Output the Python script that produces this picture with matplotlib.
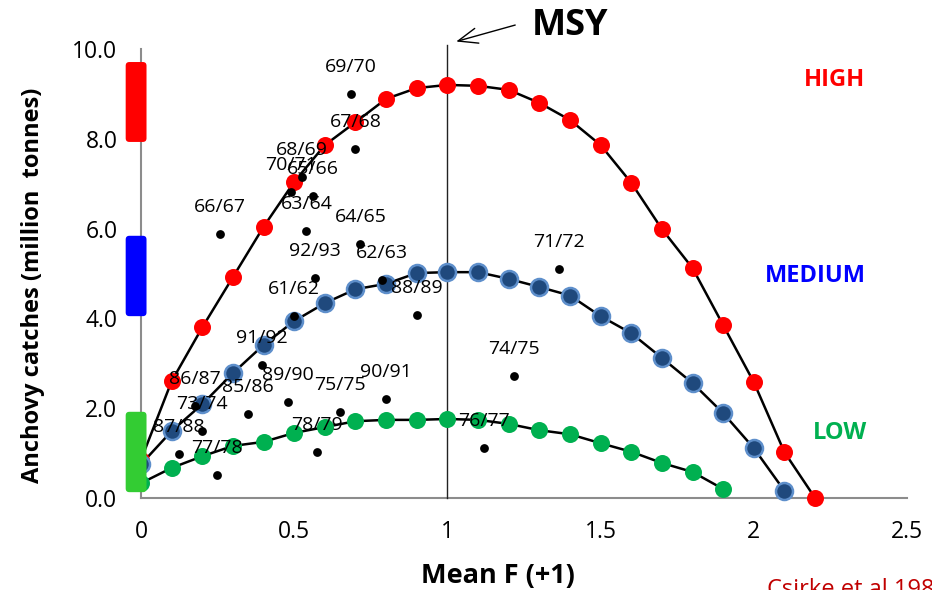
import numpy as np
import matplotlib
matplotlib.use("Agg")
import matplotlib.pyplot as plt
from matplotlib.patches import FancyBboxPatch

plt.rcParams['font.family'] = ['Open Sans', 'DejaVu Sans']

# yield curves (Mean F vs catch) for the three recruitment levels
f_high = [0.0, 0.1, 0.2, 0.3, 0.4, 0.5, 0.6, 0.7, 0.8, 0.9, 1.0, 1.1,
          1.2, 1.3, 1.4, 1.5, 1.6, 1.7, 1.8, 1.9, 2.0, 2.1, 2.2]
catch_high = [0.85, 2.6, 3.8, 4.92, 6.04, 7.04, 7.86, 8.37, 8.89, 9.13, 9.2, 9.18,
              9.09, 8.8, 8.42, 7.86, 7.02, 5.99, 5.12, 3.85, 2.58, 1.02, 0.0]
f_med = [0.0, 0.1, 0.2, 0.3, 0.4, 0.5, 0.6, 0.7, 0.8, 0.9, 1.0,
         1.1, 1.2, 1.3, 1.4, 1.5, 1.6, 1.7, 1.8, 1.9, 2.0, 2.1]
catch_med = [0.75, 1.49, 2.09, 2.78, 3.41, 3.94, 4.34, 4.65, 4.77, 5.01, 5.03,
             5.03, 4.88, 4.7, 4.51, 4.05, 3.67, 3.12, 2.56, 1.89, 1.11, 0.16]
f_low = [0.0, 0.1, 0.2, 0.3, 0.4, 0.5, 0.6, 0.7, 0.8, 0.9,
         1.0, 1.1, 1.2, 1.3, 1.4, 1.5, 1.6, 1.7, 1.8, 1.9]
catch_low = [0.33, 0.67, 0.93, 1.16, 1.25, 1.45, 1.58, 1.71, 1.74, 1.74,
             1.76, 1.74, 1.65, 1.51, 1.42, 1.22, 1.03, 0.78, 0.58, 0.2]

# observed seasons
years = ["61/62", "62/63", "63/64", "64/65", "65/66", "66/67", "67/68", "68/69",
         "69/70", "70/71", "71/72", "73/74", "74/75", "75/75", "76/77", "77/78",
         "78/79", "85/86", "86/87", "87/88", "88/89", "89/90", "90/91", "91/92", "92/93"]
obs_f = [0.5, 0.787, 0.54, 0.716, 0.56, 0.258, 0.70, 0.526,
         0.686, 0.49, 1.363, 0.2, 1.216, 0.65, 1.12, 0.248,
         0.575, 0.35, 0.176, 0.124, 0.9, 0.48, 0.8, 0.395, 0.569]
obs_catch = [4.05, 4.86, 5.95, 5.66, 6.73, 5.88, 7.77, 7.15,
             9.0, 6.82, 5.1, 1.49, 2.72, 1.92, 1.11, 0.51,
             1.02, 1.87, 2.05, 0.98, 4.08, 2.14, 2.2, 2.96, 4.9]

msy_f = 1.0
# recruitment level ranges shown as bars on the y axis
level_names = ["HIGH", "MEDIUM", "LOW"]
level_lo = [7.93, 4.05, 0.13]
level_hi = [9.71, 5.84, 1.92]
level_colors = ["#FF0000", "#0000FF", "#33CC33"]
level_text_colors = ["#FF0000", "#0000FF", "#00B050"]
level_text_y = [9.3, 4.95, 1.44]

fig = plt.figure(figsize=(9.32, 5.9), dpi=100)
ax = fig.add_axes([141 / 932, 1 - 498 / 590, 766 / 932, 449 / 590])
ax.set_xlim(0, 2.5)
ax.set_ylim(0, 10)

for s in ["top", "right"]:
    ax.spines[s].set_visible(False)
for s in ["left", "bottom"]:
    ax.spines[s].set_color("#8c8c8c")
    ax.spines[s].set_linewidth(1.5)
    ax.spines[s].set_zorder(1)

ax.set_xticks([0, 0.5, 1, 1.5, 2, 2.5])
ax.set_xticklabels(["0", "0.5", "1", "1.5", "2", "2.5"])
ax.set_yticks([0, 2, 4, 6, 8, 10])
ax.set_yticklabels(["0.0", "2.0", "4.0", "6.0", "8.0", "10.0"])
ax.tick_params(axis="both", length=0, labelsize=16.5)
ax.tick_params(axis="y", pad=17)
ax.tick_params(axis="x", pad=16)

# MSY line
ax.plot([msy_f, msy_f], [0, 10.1], color="#222222", lw=1.0, clip_on=False, zorder=2)

ax.plot(f_high, catch_high, color="black", lw=1.8, zorder=3)
ax.plot(f_med, catch_med, color="black", lw=1.8, zorder=3)
ax.plot(f_low, catch_low, color="black", lw=1.8, zorder=3)
ax.scatter(f_high, catch_high, s=150, color="#FF0000", zorder=4, clip_on=False, linewidths=0)
ax.scatter(f_med, catch_med, s=150, facecolor="#1F497D", edgecolor="#5E8FCB",
           linewidths=1.8, zorder=4, clip_on=False)
ax.scatter(f_low, catch_low, s=150, color="#00B050", zorder=4, clip_on=False, linewidths=0)

ax.scatter(obs_f, obs_catch, s=40, color="black", zorder=5, linewidths=0)
for lab, x, y in zip(years, obs_f, obs_catch):
    ax.annotate(lab, (x, y), xytext=(0, 19.5), textcoords="offset points",
                ha="center", va="center", fontsize=14, color="black", zorder=6)

# coloured level bars on the y axis
aspect = (1 / 44.9) / (1 / 306.4)
for lo, hi, c in zip(level_lo, level_hi, level_colors):
    p = FancyBboxPatch((-0.05, lo), 0.068, hi - lo,
                       boxstyle="round,pad=0,rounding_size=0.012",
                       mutation_aspect=aspect, facecolor=c, edgecolor="none",
                       clip_on=False, zorder=7)
    ax.add_patch(p)

text_x = [2.262, 2.2, 2.281]
for name, c, tx, ty in zip(level_names, level_text_colors, text_x, level_text_y):
    ax.text(tx, ty, name, color=c, fontsize=17, fontweight="bold",
            ha="center", va="center")

# MSY label and arrow
ax.annotate("", xy=(msy_f + 0.02, 10.15), xytext=(msy_f + 0.23, 10.55),
            annotation_clip=False,
            arrowprops=dict(arrowstyle="->,head_length=1.4,head_width=0.55",
                            color="black", lw=1.0))
fig.text(570 / 932, 1 - 26 / 590, "MSY", fontsize=26, fontweight="bold",
         ha="center", va="center")

fig.text(33 / 932, 1 - 285 / 590, "Anchovy catches (million  tonnes)",
         rotation=90, fontsize=17, fontweight="bold", ha="center", va="center")
fig.text(498 / 932, 1 - 576 / 590, "Mean F (+1)", fontsize=19.5,
         fontweight="bold", ha="center", va="center")
fig.text(767 / 932, 1 - 578 / 590, "Csirke et al 1980", fontsize=17,
         color="#C00000", ha="left", va="top")

fig.savefig("out.png", dpi=100)
